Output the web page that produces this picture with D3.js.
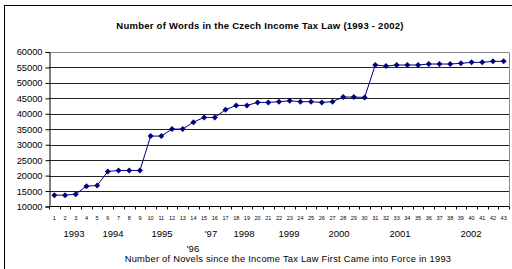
<!DOCTYPE html>
<html><head><meta charset="utf-8">
<script src="https://cdn.jsdelivr.net/npm/d3@7"></script>
<style>body{margin:0;background:#fff}svg{display:block}text{font-family:"Liberation Sans",Arial,sans-serif}</style>
</head><body>
<script>
const categories = d3.range(1, 44);
const words = [13670,13670,14000,16590,16800,21340,21660,21660,21660,32790,32790,35050,35050,37300,38830,38830,41320,42720,42720,43690,43690,43910,44230,43910,43910,43690,43910,45420,45420,45300,55790,55460,55790,55790,55790,56110,56110,56110,56330,56650,56650,56980,56980];
const yTicks = [10000,15000,20000,25000,30000,35000,40000,45000,50000,55000,60000];
const yearLabels = [
  {text:"1993", x:74, row:0},{text:"1994", x:113, row:0},{text:"1995", x:162, row:0},
  {text:"'96", x:193, row:1},{text:"'97", x:211, row:0},{text:"1998", x:244, row:0},
  {text:"1999", x:289, row:0},{text:"2000", x:339, row:0},{text:"2001", x:400, row:0},{text:"2002", x:471, row:0}
];
const W=512,H=269;
const svg=d3.select("body").append("svg").attr("width",W).attr("height",H);
svg.append("rect").attr("x",4.5).attr("y",5.5).attr("width",W+10).attr("height",H+10).attr("fill","#fff").attr("stroke","#000").attr("stroke-width",1);
const L=49,R=509,T=52,B=206.5;
const x=d3.scaleBand().domain(categories).range([L,R]);
const y=d3.scaleLinear().domain([10000,60000]).range([B,T]);
svg.append("text").attr("x",260).attr("y",28.5).attr("text-anchor","middle").attr("font-size",9.5).attr("letter-spacing",0.25).attr("font-weight","bold").text("Number of Words in the Czech Income Tax Law (1993 - 2002)");
// gridlines
svg.append("g").selectAll("line").data(yTicks.slice(1)).join("line")
  .attr("x1",L).attr("x2",R).attr("y1",d=>Math.round(y(d))+0.5).attr("y2",d=>Math.round(y(d))+0.5)
  .attr("stroke","#222").attr("stroke-width",1);
// plot border
svg.append("path").attr("d",`M${L},${Math.round(T)+0.5}H${R+0.5}V${B}`).attr("fill","none").attr("stroke","#888");
// y axis
const ya=svg.append("g").attr("transform",`translate(${L+0.5},0)`).call(d3.axisLeft(y).tickValues(yTicks).tickSize(4).tickPadding(3).tickFormat(d3.format("d")));
ya.select(".domain").attr("stroke","#000");
ya.selectAll("text").attr("font-size",9.3).attr("font-family","Liberation Sans, Arial, sans-serif").attr("fill","#000");
// x axis
const xg=svg.append("g").attr("transform",`translate(0,${B})`);
xg.append("line").attr("x1",L).attr("x2",R).attr("y1",0).attr("y2",0).attr("stroke","#000");
xg.selectAll("line.t").data(d3.range(0,44)).join("line").attr("class","t")
  .attr("x1",i=>Math.round(L+i*x.step())+0.5).attr("x2",i=>Math.round(L+i*x.step())+0.5).attr("y1",0).attr("y2",3).attr("stroke","#000");
xg.selectAll("text").data(categories).join("text")
  .attr("x",d=>x(d)+x.bandwidth()/2).attr("y",13).attr("text-anchor","middle").attr("font-size",5.5).attr("fill","#000").text(d=>d);
svg.append("g").selectAll("text").data(yearLabels).join("text")
  .attr("x",d=>d.x).attr("y",d=>d.row?251.5:236.5).attr("text-anchor","middle").attr("font-size",9.5).attr("fill","#000").text(d=>d.text);
svg.append("text").attr("x",288).attr("y",261.5).attr("text-anchor","middle").attr("font-size",9.3).attr("letter-spacing",0.25).attr("fill","#000").text("Number of Novels since the Income Tax Law  First Came into Force in 1993");
// line
const pts=categories.map((c,i)=>[x(c)+x.bandwidth()/2,y(words[i])]);
svg.append("path").attr("d",d3.line()(pts)).attr("fill","none").attr("stroke","#000080").attr("stroke-width",1);
svg.append("g").selectAll("path").data(pts).join("path")
  .attr("transform",d=>`translate(${d[0]},${d[1]})`).attr("d","M0,-3L3,0L0,3L-3,0Z").attr("fill","#000080");
</script>
</body></html>
